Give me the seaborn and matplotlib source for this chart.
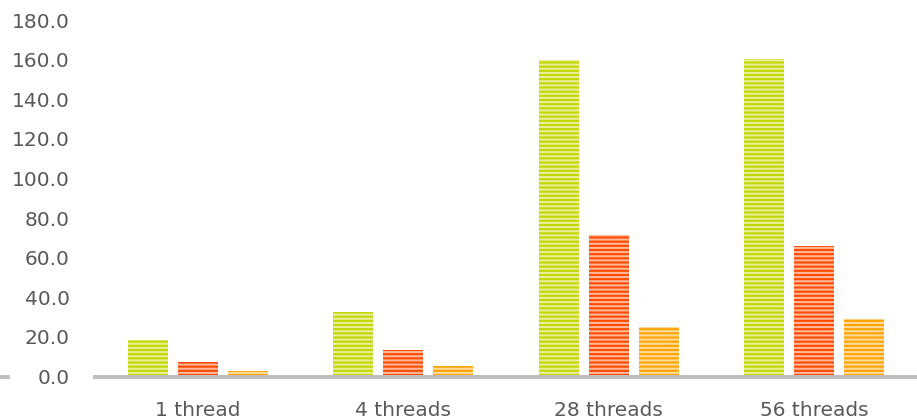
import matplotlib
matplotlib.use("Agg")
import matplotlib.pyplot as plt
from matplotlib.lines import Line2D
from matplotlib.colors import to_rgb
import numpy as np
import pandas as pd
import seaborn as sns

# Throughput per thread count for three configurations
categories = ["1 thread", "4 threads", "28 threads", "56 threads"]
series_names = ["config_a", "config_b", "config_c"]
values_a = [18.4, 32.6, 159.9, 160.2]
values_b = [7.5, 13.4, 71.4, 65.9]
values_c = [2.6, 5.1, 25.0, 29.0]
yticks = [0, 20, 40, 60, 80, 100, 120, 140, 160, 180]

colors = ["#c4d600", "#ff4b00", "#ffa300"]

df = pd.DataFrame({
    "threads": categories * 3,
    "series": [s for s in series_names for _ in categories],
    "value": values_a + values_b + values_c,
})

sns.set_theme(style="white")
plt.rcParams["font.family"] = ["DejaVu Sans"]
plt.rcParams["hatch.linewidth"] = 1.5

fig = plt.figure(figsize=(9.17, 4.2), dpi=100)
ax = fig.add_axes([95 / 917, 43.5 / 420, 1 - 95 / 917, (376.5 - 20) / 420])

sns.barplot(data=df, x="threads", y="value", hue="series",
            order=categories, hue_order=series_names,
            palette=colors, width=0.73, gap=0.2, legend=False,
            saturation=1, ax=ax, zorder=2)


def lighten(c, amt):
    r, g, b = to_rgb(c)
    return (r + (1 - r) * amt, g + (1 - g) * amt, b + (1 - b) * amt)


# Horizontal striped fill on every bar
for cont, col in zip(ax.containers, colors):
    for patch in cont:
        patch.set_facecolor(col)
        patch.set_edgecolor(lighten(col, 0.6))
        patch.set_linewidth(0)
        patch.set_hatch("----")

ax.set_ylim(0, 180)
ax.set_yticks(yticks)
ax.set_yticklabels([f"{v:.1f}" for v in yticks])
ax.set_xlabel("")
ax.set_ylabel("")

for side in ["top", "right", "left"]:
    ax.spines[side].set_visible(False)
ax.spines["bottom"].set_color("#bfbfbf")
ax.spines["bottom"].set_linewidth(2.9)
ax.spines["bottom"].set_zorder(3)

ax.tick_params(axis="both", length=0, labelsize=14.5, labelcolor="#595959")
ax.tick_params(axis="y", pad=18)
ax.tick_params(axis="x", pad=18)
ax.grid(False)

# short stub of the baseline at the far left edge
fig.add_artist(Line2D([0, 10 / 917], [43.5 / 420, 43.5 / 420],
                      transform=fig.transFigure, color="#bfbfbf",
                      linewidth=2.9, solid_capstyle="butt"))

fig.savefig("out.png", dpi=100)
